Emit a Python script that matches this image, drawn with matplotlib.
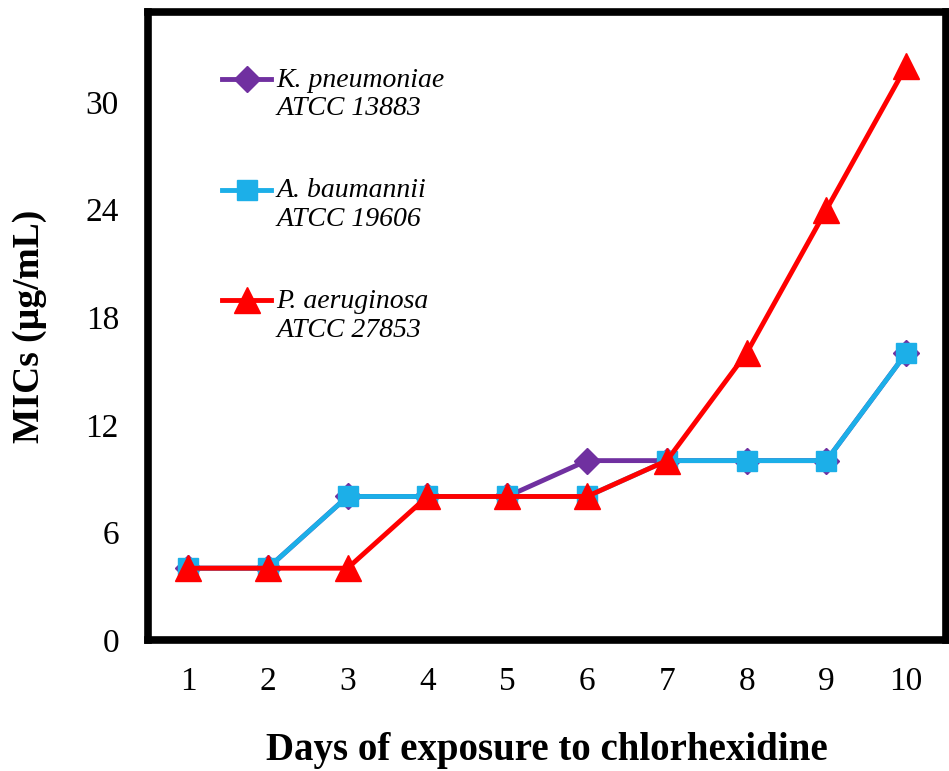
import matplotlib
matplotlib.use('Agg')
import matplotlib.pyplot as plt
from matplotlib.legend_handler import HandlerLine2D

# MIC values
days = [1, 2, 3, 4, 5, 6, 7, 8, 9, 10]
k_pneumoniae = [4, 4, 8, 8, 8, 10, 10, 10, 10, 16]
a_baumannii = [4, 4, 8, 8, 8, 8, 10, 10, 10, 16]
p_aeruginosa = [4, 4, 4, 8, 8, 8, 10, 16, 24, 32]
labels = ['K. pneumoniae\nATCC 13883', 'A. baumannii\nATCC 19606', 'P. aeruginosa\nATCC 27853']
yticks = [0, 6, 12, 18, 24, 30]

plt.rcParams['font.family'] = ['Liberation Serif', 'DejaVu Serif']


class FirstLineHandler(HandlerLine2D):
    """Put the legend handle level with the first text line"""
    def create_artists(self, legend, orig_handle, xdescent, ydescent,
                       width, height, fontsize, trans):
        arts = super().create_artists(legend, orig_handle, xdescent, ydescent,
                                      width, height, fontsize, trans)
        for a in arts:
            a.set_ydata([y + 0.55 * fontsize for y in a.get_ydata()])
        return arts


fig = plt.figure(figsize=(9.49, 7.71), dpi=100)
ax = fig.add_axes([0.156, 0.170, 0.841, 0.814])

ax.plot(days, k_pneumoniae, color='#7030A0', marker='D', markersize=13, linewidth=3.5, label=labels[0])
ax.plot(days, a_baumannii, color='#1CAFE8', marker='s', markersize=15, linewidth=3.5, label=labels[1])
ax.plot(days, p_aeruginosa, color='#FF0000', marker='^', markersize=19, linewidth=3.5, label=labels[2])

ax.set_xlim(0.5, 10.5)
ax.set_ylim(0, 35)
ax.set_xticks(days)
ax.set_yticks(yticks)
ax.tick_params(axis='both', length=0, labelsize=24)
ax.tick_params(axis='x', pad=19)
ax.tick_params(axis='y', pad=21)

for sp in ax.spines.values():
    sp.set_linewidth(5.5)
    sp.set_color('black')

ax.set_xlabel('Days of exposure to chlorhexidine', fontsize=28, fontweight='bold', labelpad=25)
ax.set_ylabel('MICs (\u00b5g/mL)', fontsize=27, fontweight='bold', labelpad=28)

leg = ax.legend(loc='upper left', bbox_to_anchor=(0.093, 0.912), frameon=False,
                prop={'style': 'italic', 'size': 20}, labelspacing=2.05,
                handlelength=1.75, handletextpad=0.2, borderpad=0, borderaxespad=0,
                handler_map={plt.Line2D: FirstLineHandler()})

fig.savefig('out.png', dpi=100)
